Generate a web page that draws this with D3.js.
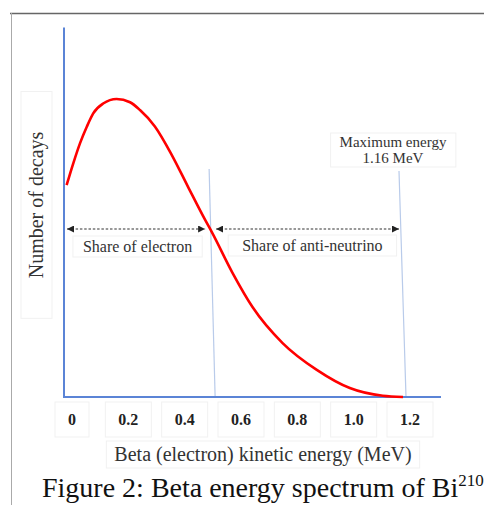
<!DOCTYPE html>
<html>
<head>
<meta charset="utf-8">
<script src="https://cdn.jsdelivr.net/npm/d3@7"></script>
<style>
  body { margin: 0; background: #fff; }
  svg { display: block; font-family: "Liberation Serif", "Times New Roman", serif; }
</style>
</head>
<body>
<svg id="chart" width="484" height="505"></svg>
<script>
// Beta spectrum (energy in MeV, relative counts)
const energy = [0.009, 0.032, 0.055, 0.078, 0.100, 0.134, 0.180, 0.226, 0.260, 0.311, 0.369, 0.424, 0.483, 0.505, 0.577, 0.645, 0.748, 0.865, 0.978, 1.091, 1.16];
const counts = [0.711, 0.785, 0.852, 0.907, 0.952, 0.985, 1.0, 0.989, 0.963, 0.908, 0.812, 0.706, 0.594, 0.555, 0.416, 0.302, 0.181, 0.091, 0.03, 0.004, 0.0];
const tickLabels = ["0", "0.2", "0.4", "0.6", "0.8", "1.0", "1.2"];
const splitEnergy = 0.5;   // electron / anti-neutrino boundary
const maxEnergy = 1.16;

const svg = d3.select("#chart");

const x = d3.scaleLinear().domain([0, maxEnergy]).range([64, 403]);
const y = d3.scaleLinear().domain([0, 1]).range([397, 99]);
// tick labels in the figure sit in their own evenly spaced boxes
const xLabel = d3.scalePoint().domain(tickLabels).range([72, 410]);

const axisColor = "#5b84d6";
const guideColor = "#b9cbea";

// frame lines of the scanned page
svg.append("line").attr("x1", 10).attr("x2", 484).attr("y1", 13.5).attr("y2", 13.5)
  .attr("stroke", "#666").attr("stroke-width", 1.5);
svg.append("line").attr("x1", 11.5).attr("x2", 11.5).attr("y1", 13).attr("y2", 505)
  .attr("stroke", "#aaa").attr("stroke-width", 1);

// faint box around a text element (drawn in the text's own parent)
function boxAround(t, padX, padY) {
  const node = t.node();
  const b = node.getBBox();
  d3.select(node.parentNode).insert("rect", () => node)
    .attr("x", b.x - padX).attr("y", b.y - padY)
    .attr("width", b.width + 2 * padX).attr("height", b.height + 2 * padY)
    .attr("fill", "none").attr("stroke", "#f1f1f1").attr("stroke-width", 1);
}

// guide lines (slightly tilted, as in the scan)
svg.append("line")
  .attr("x1", x(splitEnergy) - 1).attr("y1", 169)
  .attr("x2", x(splitEnergy) + 5).attr("y2", y(0))
  .attr("stroke", guideColor).attr("stroke-width", 1.2);
svg.append("line")
  .attr("x1", x(maxEnergy) - 4).attr("y1", 171)
  .attr("x2", x(maxEnergy) + 3).attr("y2", y(0))
  .attr("stroke", guideColor).attr("stroke-width", 1.2);

// axes
svg.append("line").attr("x1", x(0)).attr("x2", x(0)).attr("y1", y(1.24)).attr("y2", y(0) + 1)
  .attr("stroke", axisColor).attr("stroke-width", 2);
svg.append("line").attr("x1", x(0) - 1).attr("x2", x(1.29)).attr("y1", y(0)).attr("y2", y(0))
  .attr("stroke", axisColor).attr("stroke-width", 2);

// curve
const pts = energy.map((e, i) => [e, counts[i]]);
svg.append("path")
  .datum(pts)
  .attr("fill", "none")
  .attr("stroke", "#ff0000")
  .attr("stroke-width", 2.6)
  .attr("d", d3.line().x(d => x(d[0])).y(d => y(d[1])).curve(d3.curveMonotoneX));

// dashed double arrows
const defs = svg.append("defs");
defs.append("marker").attr("id", "ah").attr("viewBox", "0 0 10 10")
  .attr("refX", 10).attr("refY", 5).attr("markerWidth", 7).attr("markerHeight", 7)
  .attr("markerUnits", "userSpaceOnUse").attr("orient", "auto-start-reverse")
  .append("path").attr("d", "M0,0L10,5L0,10z").attr("fill", "#222");

const arrowY = 229;
function arrow(x1, x2) {
  svg.append("line").attr("x1", x1).attr("x2", x2).attr("y1", arrowY).attr("y2", arrowY)
    .attr("stroke", "#333").attr("stroke-width", 1.1).attr("stroke-dasharray", "2.5,1.8")
    .attr("marker-start", "url(#ah)").attr("marker-end", "url(#ah)");
}
arrow(x(0) + 3, x(splitEnergy) - 5);
arrow(x(splitEnergy) + 6, x(maxEnergy) - 4);

// annotations
const t1 = svg.append("text").attr("x", x(0.25) + 0.5).attr("y", 252)
  .attr("text-anchor", "middle").attr("font-size", 16).attr("fill", "#333").text("Share of electron");
boxAround(t1, 10, 2);
const t2 = svg.append("text").attr("x", x(0.85)).attr("y", 251)
  .attr("text-anchor", "middle").attr("font-size", 16).attr("fill", "#333").text("Share of anti-neutrino");
boxAround(t2, 14, 2);

const mx = svg.append("text").attr("x", 393).attr("y", 147)
  .attr("text-anchor", "middle").attr("font-size", 15).attr("fill", "#333");
mx.append("tspan").attr("x", 393).text("Maximum energy");
mx.append("tspan").attr("x", 393).attr("dy", 16).text("1.16 MeV");
boxAround(mx, 9, 1);

// tick labels
svg.append("g").selectAll("text")
  .data(tickLabels)
  .join("text")
  .attr("x", d => xLabel(d))
  .attr("y", 425)
  .attr("text-anchor", "middle")
  .attr("font-size", 16)
  .attr("font-weight", "bold")
  .attr("fill", "#222")
  .text(d => d)
  .each(function() { boxAround(d3.select(this), 13, 9); });

// axis titles
const xt = svg.append("text").attr("x", 263).attr("y", 461)
  .attr("text-anchor", "middle").attr("font-size", 20).attr("fill", "#333")
  .text("Beta (electron) kinetic energy (MeV)");
boxAround(xt, 8, 2);

const yg = svg.append("g").attr("transform", "translate(43,205) rotate(-90)");
const yt = yg.append("text")
  .attr("text-anchor", "middle").attr("font-size", 20).attr("fill", "#333")
  .text("Number of decays");
boxAround(yt, 40, 4);

// caption
const cap = svg.append("text").attr("x", 42).attr("y", 497)
  .attr("font-size", 28).attr("fill", "#111");
cap.append("tspan").text("Figure 2: Beta energy spectrum of Bi");
cap.append("tspan").attr("font-size", 17).attr("dy", -11).text("210");
</script>
</body>
</html>
